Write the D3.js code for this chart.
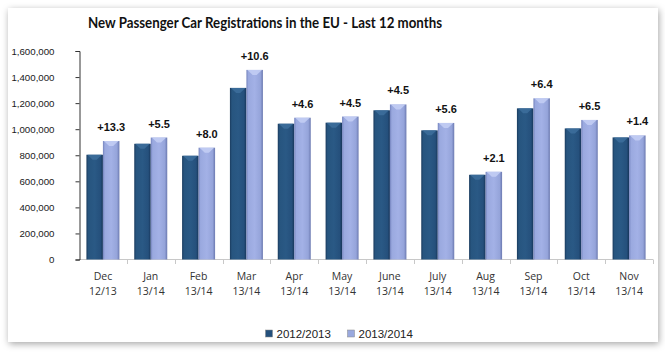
<!DOCTYPE html>
<html><head><meta charset="utf-8">
<script src="https://cdn.jsdelivr.net/npm/d3@7"></script>
<style>body{margin:0;background:#fff;}svg{display:block;}</style>
</head><body>
<svg id="c" width="665" height="352"></svg>
<script>
const title = "New Passenger Car Registrations in the EU - Last 12 months";
const months = ["Dec","Jan","Feb","Mar","Apr","May","June","July","Aug","Sep","Oct","Nov"];
const periods = ["12/13","13/14","13/14","13/14","13/14","13/14","13/14","13/14","13/14","13/14","13/14","13/14"];
const seriesNames = ["2012/2013","2013/2014"];
const values2012 = [804000, 888000, 796000, 1317000, 1042000, 1050000, 1145000, 991000, 650000, 1160000, 1006000, 937000];
const values2013 = [909000, 936000, 858000, 1455000, 1088000, 1097000, 1190000, 1048000, 673000, 1237000, 1071000, 952000];
const changes = ["+13.3","+5.5","+8.0","+10.6","+4.6","+4.5","+4.5","+5.6","+2.1","+6.4","+6.5","+1.4"];
const yTicks = [0,200000,400000,600000,800000,1000000,1200000,1400000,1600000];

const svg = d3.select("#c");
const defs = svg.append("defs");
const f = defs.append("filter").attr("id","sh").attr("x","-5%").attr("y","-5%").attr("width","110%").attr("height","115%");
f.append("feDropShadow").attr("dx",1).attr("dy",2).attr("stdDeviation",3.5).attr("flood-color","#000").attr("flood-opacity",0.35);

function grad(id, stops){
  const g = defs.append("linearGradient").attr("id",id).attr("x1","0").attr("x2","1").attr("y1","0").attr("y2","0");
  stops.forEach(s=>g.append("stop").attr("offset",s[0]).attr("stop-color",s[1]));
}
grad("g0", [["0%","#1a3b5e"],["12%","#27557f"],["50%","#2a5985"],["85%","#25507c"],["100%","#17355a"]]);
grad("g1", [["0%","#7483bd"],["12%","#9aa9df"],["50%","#a3b1e6"],["85%","#95a4da"],["100%","#6b79b0"]]);
const fills = ["url(#g0)","url(#g1)"];
const bevel = ["#3d6f9c","#c4cff5"];
const legendCol = ["#24507c","#9aa9de"];

svg.append("rect").attr("x",8).attr("y",8).attr("width",650).attr("height",334)
  .attr("fill","#fff").attr("filter","url(#sh)");

svg.append("text").attr("x",265).attr("y",28).attr("text-anchor","middle")
  .attr("font-family","Lato, 'Open Sans', sans-serif").attr("font-weight","bold")
  .attr("font-size",15).attr("fill","#111")
  .attr("textLength",354).attr("lengthAdjust","spacingAndGlyphs").text(title);

const x = d3.scaleBand().domain(months).range([79,653]).paddingInner(0).paddingOuter(0);
const xs = d3.scaleBand().domain(seriesNames).range([0,x.bandwidth()]).paddingInner(0).paddingOuter(0.45);
const y = d3.scaleLinear().domain([0,1600000]).range([259.5,51]);

// x axis line + ticks
const gx = svg.append("g");
gx.append("line").attr("x1",79).attr("x2",653).attr("y1",259.5).attr("y2",259.5).attr("stroke","#c8c8c8");
gx.selectAll("line.t").data(months.slice(1).concat(["end"])).join("line")
  .attr("x1",(d,i)=>Math.round(79+(i+1)*x.step())+0.5).attr("x2",(d,i)=>Math.round(79+(i+1)*x.step())+0.5)
  .attr("y1",259.5).attr("y2",264).attr("stroke","#c8c8c8");

// y axis
const yAxis = d3.axisLeft(y).tickValues(yTicks).tickSize(4).tickPadding(20)
  .tickFormat(d3.format(","));
const gy = svg.append("g").attr("transform","translate(79.5,0)").call(yAxis);
gy.select(".domain").attr("stroke","#333");
gy.selectAll(".tick line").attr("stroke","#333");
gy.selectAll(".tick text").attr("font-family","'Liberation Sans', Arial, sans-serif").attr("font-size",9.7).attr("fill","#1a1a1a").attr("dx",-1);

// bars
const data = months.map((m,i)=>({m, v:[values2012[i], values2013[i]], c:changes[i], p:periods[i]}));
const groups = svg.append("g").selectAll("g").data(data).join("g")
  .attr("transform",d=>`translate(${x(d.m)},0)`);
seriesNames.forEach((s,k)=>{
  groups.append("rect").attr("x",xs(s)).attr("width",xs.bandwidth())
    .attr("y",d=>y(d.v[k])).attr("height",d=>y(0)-y(d.v[k])).attr("fill",fills[k]);
  groups.append("path").attr("fill",bevel[k]).attr("opacity",0.85)
    .attr("d",d=>{const x0=xs(s), x1=xs(s)+xs.bandwidth(), yt=y(d.v[k]);
      return `M${x0+1},${yt}L${x1-1},${yt}L${(x0+x1)/2+2},${yt+5}L${(x0+x1)/2-2},${yt+5}Z`;});
});
groups.append("text").attr("x",xs(seriesNames[1])+xs.bandwidth()/2)
  .attr("y",d=>y(d.v[1])-10).attr("text-anchor","middle")
  .attr("font-family","'Liberation Sans', Arial, sans-serif").attr("font-weight","bold")
  .attr("font-size",11).attr("fill","#111").text(d=>d.c);

// category labels
const cl = svg.append("g").selectAll("text").data(data).join("text")
  .attr("text-anchor","middle").attr("font-family","'Open Sans', Lato, sans-serif")
  .attr("font-size",10.5).attr("fill","#333");
cl.append("tspan").attr("x",d=>x(d.m)+x.bandwidth()/2).attr("y",280).text(d=>d.m);
cl.append("tspan").attr("x",d=>x(d.m)+x.bandwidth()/2).attr("y",295).text(d=>d.p);

// legend
const lg = svg.append("g");
const lx = [265.5, 347.5];
seriesNames.forEach((s,k)=>{
  lg.append("rect").attr("x",lx[k]).attr("y",330).attr("width",7).attr("height",7).attr("fill",legendCol[k]).attr("stroke","#888").attr("stroke-width",0.5);
  lg.append("text").attr("x",lx[k]+11).attr("y",337.5).attr("font-family","'Liberation Sans', Arial, sans-serif")
    .attr("font-size",11.5).attr("fill","#222").text(s);
});
</script>
</body></html>
